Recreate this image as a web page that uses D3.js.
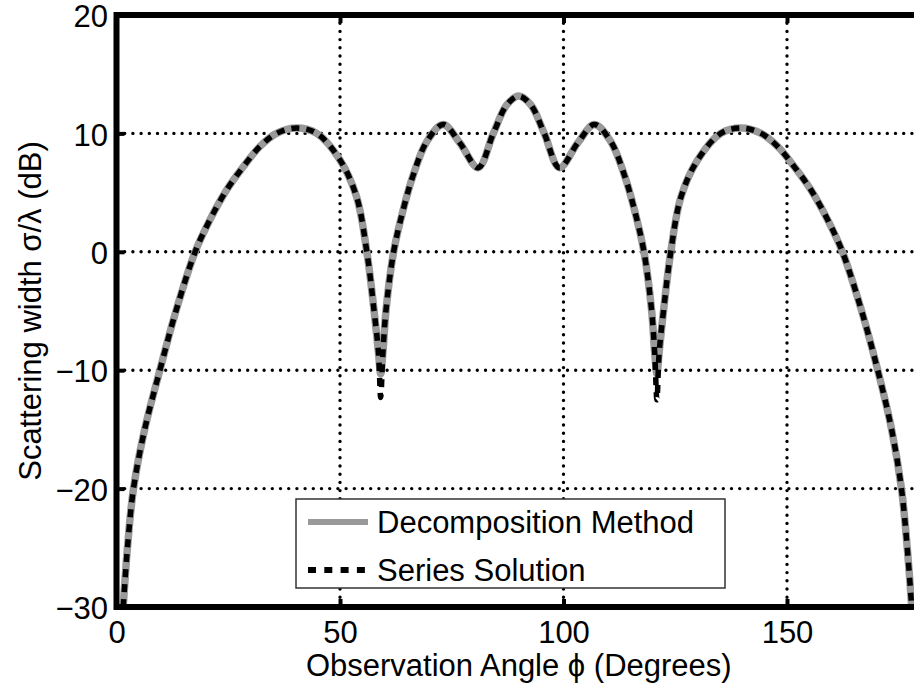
<!DOCTYPE html>
<html>
<head>
<meta charset="utf-8">
<script src="https://cdn.jsdelivr.net/npm/d3@7"></script>
<style>
  body { margin: 0; background: #fff; }
  text { font-family: "Liberation Sans", Arial, sans-serif; fill: #000; }
</style>
</head>
<body>
<div id="chart"></div>
<script>
const width = 914
const height = 688
const margin = { top: 15, left: 116.5, bottom: 81 }
const plotW = 804.6
const plotH = height - margin.top - margin.bottom

// data
const angles = [1.5, 2.45, 3.8, 6.3, 9.7, 13.3, 17.6, 20.9, 24.6, 28.4, 32.1, 35.8, 40.3, 44.8, 50, 53.7, 56, 57.6, 58.6, 59.1, 59.6, 60.3, 62, 64.2, 66.4, 69.4, 73.1, 76.8, 80.9, 84.3, 87.3, 90,
  92.7, 95.7, 99.1, 103.2, 106.9, 110.6, 113.6, 115.8, 118, 119.7, 120.4, 120.9, 121.4, 122.4, 124, 126.3, 130, 135.2, 139.7, 144.2, 147.9, 151.6, 155.4, 159.1, 162.4, 166.7, 170.3, 173.4, 175.6, 176.9, 177.9]
const decomposition = [-30, -25, -20, -15, -10, -5, 0, 2.7, 5.2, 7.2, 8.9, 10.0, 10.45, 10.0, 7.75, 4.65, 0, -4.9, -8.5, -10.3, -8.5, -4.9, 0, 3.65, 6.5, 9.3, 10.75, 9.2, 7.1, 10.0, 12.4, 13.15,
  12.4, 10.0, 7.1, 9.2, 10.75, 9.3, 6.5, 3.65, 0, -4.9, -8.5, -10.3, -8.5, -4.9, 0, 4.65, 7.75, 10.0, 10.45, 10.0, 8.9, 7.2, 5.2, 2.7, 0, -5, -10, -15, -20, -25, -30]
const series = [-30, -25, -20, -15, -10, -5, 0, 2.7, 5.2, 7.2, 8.9, 10.0, 10.45, 10.0, 7.75, 4.65, 0, -4.9, -8.5, -12.3, -8.5, -4.9, 0, 3.65, 6.5, 9.3, 10.75, 9.2, 7.1, 10.0, 12.4, 13.15,
  12.4, 10.0, 7.1, 9.2, 10.75, 9.3, 6.5, 3.65, 0, -4.9, -8.5, -12.5, -8.5, -4.9, 0, 4.65, 7.75, 10.0, 10.45, 10.0, 8.9, 7.2, 5.2, 2.7, 0, -5, -10, -15, -20, -25, -30]

const xTicks = [0, 50, 100, 150]
const yTicks = [20, 10, 0, -10, -20, -30]
const xGrid = [50, 100, 150]
const yGrid = [10, 0, -10, -20]
const legendNames = ["Decomposition Method", "Series Solution"]

const svg = d3.select("div#chart").append("svg").attr("width", width).attr("height", height)
svg.append("rect").attr("width", width).attr("height", height).attr("fill", "#fff")

const x = d3.scaleLinear().domain([0, 180]).range([0, plotW])
const y = d3.scaleLinear().domain([-30, 20]).range([plotH, 0])

const g = svg.append("g").attr("transform", `translate(${margin.left}, ${margin.top})`)

svg.append("defs").append("clipPath").attr("id", "plotClip")
  .append("rect").attr("x", 0).attr("y", 0).attr("width", plotW).attr("height", plotH)

// dotted grid
const gridGroup = g.append("g").attr("stroke", "#000").attr("stroke-width", 3.4)
  .attr("stroke-linecap", "round").attr("stroke-dasharray", "0,8.2")
gridGroup.selectAll("line.gx").data(xGrid).enter().append("line")
  .attr("x1", d => x(d)).attr("x2", d => x(d)).attr("y1", 0).attr("y2", plotH)
gridGroup.selectAll("line.gy").data(yGrid).enter().append("line")
  .attr("x1", 0).attr("x2", plotW).attr("y1", d => y(d)).attr("y2", d => y(d))

// curves
const curveGroup = g.append("g").attr("clip-path", "url(#plotClip)")
const line = d3.line().x(d => x(d[0])).y(d => y(d[1])).curve(d3.curveCatmullRom.alpha(0.5))

curveGroup.append("path")
  .datum(angles.map((a, i) => [a, decomposition[i]]))
  .attr("d", line).attr("fill", "none").attr("stroke", "#999").attr("stroke-width", 7.5)
  .attr("stroke-linejoin", "round")

curveGroup.append("path")
  .datum(angles.map((a, i) => [a, series[i]]))
  .attr("d", line).attr("fill", "none").attr("stroke", "#000").attr("stroke-width", 5.5)
  .attr("stroke-dasharray", "8,7")

// axes, ticks inward
const yAxis = d3.axisLeft(y).tickValues(yTicks).tickSize(-8).tickPadding(8.5)
  .tickFormat(d => d < 0 ? "\u2212" + Math.abs(d) : d)
const xAxis = d3.axisBottom(x).tickValues(xTicks).tickSize(-8).tickPadding(14)
const xTop = d3.axisTop(x).tickValues(xTicks).tickSize(-8).tickFormat("")

const yAxisGroup = g.append("g").call(yAxis)
const xAxisGroup = g.append("g").attr("transform", `translate(0, ${plotH})`).call(xAxis)
const xTopGroup = g.append("g").call(xTop)

;[yAxisGroup, xAxisGroup, xTopGroup].forEach(a => {
  a.select(".domain").remove()
  a.selectAll(".tick line").attr("stroke", "#000").attr("stroke-width", 4)
  a.selectAll("text").attr("font-size", 31).attr("font-family", "Liberation Sans, Arial, sans-serif").attr("fill", "#000")
})
yAxisGroup.selectAll("text").attr("dy", "0.38em")

// frame
g.append("rect").attr("x", 0).attr("y", 0).attr("width", plotW).attr("height", plotH)
  .attr("fill", "none").attr("stroke", "#000").attr("stroke-width", 6)

// legend
const legend = svg.append("g").attr("transform", "translate(296, 499)")
legend.append("rect").attr("width", 429).attr("height", 89)
  .attr("fill", "#fff").attr("stroke", "#333").attr("stroke-width", 1.5)
legend.append("line").attr("x1", 12).attr("x2", 72).attr("y1", 23).attr("y2", 23)
  .attr("stroke", "#999").attr("stroke-width", 6)
legend.append("line").attr("x1", 12).attr("x2", 72).attr("y1", 71).attr("y2", 71)
  .attr("stroke", "#000").attr("stroke-width", 6).attr("stroke-dasharray", "8,8.3")
legend.selectAll("text").data(legendNames).enter().append("text")
  .attr("x", 81).attr("y", (d, i) => 34 + i * 48)
  .attr("font-size", 31).text(d => d)

// axis titles
svg.append("text").text("Observation Angle \u03d5 (Degrees)")
  .attr("x", margin.left + plotW / 2).attr("y", 676)
  .attr("text-anchor", "middle").attr("font-size", 31)

svg.append("text").text("Scattering width \u03c3/\u03bb (dB)")
  .attr("transform", `translate(41, ${margin.top + plotH / 2}) rotate(-90)`)
  .attr("text-anchor", "middle").attr("font-size", 31)
</script>
</body>
</html>
